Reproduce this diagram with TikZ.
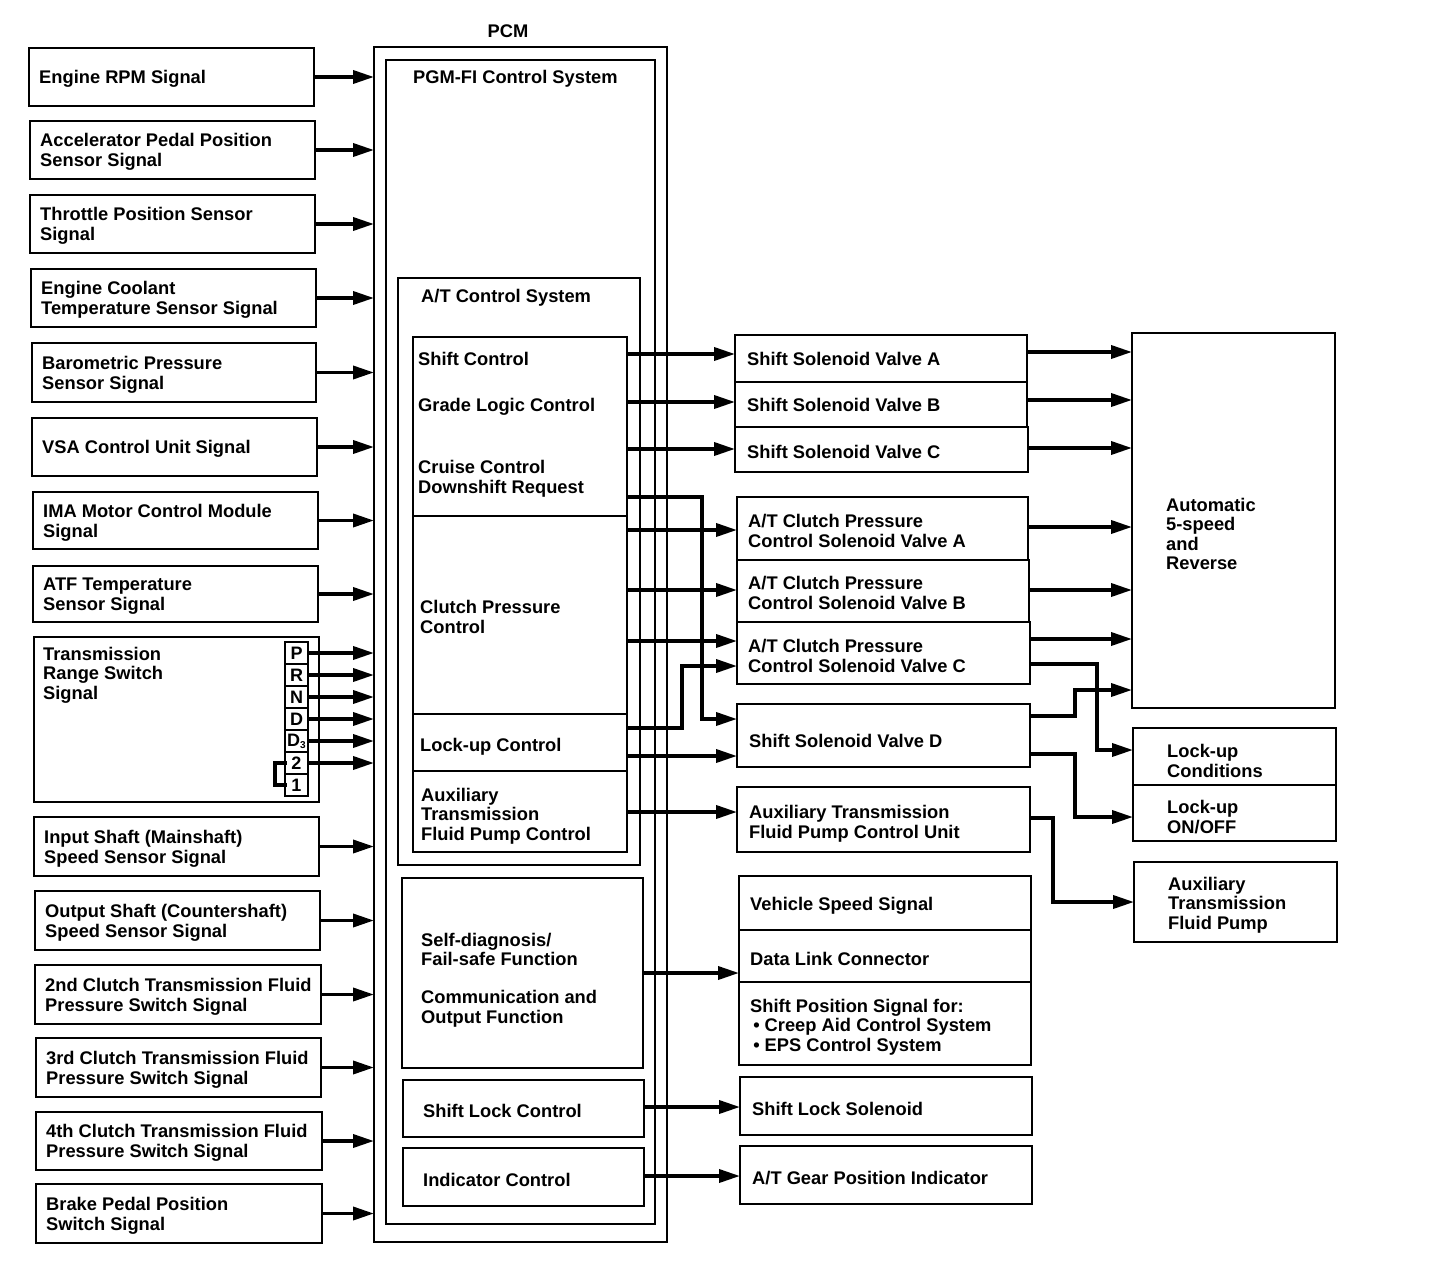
\documentclass[tikz,border=0pt]{standalone}
\usepackage{fontspec}
\setmainfont{Liberation Sans}
\usetikzlibrary{arrows.meta}
\newcommand\bxn[6][]{\node[bx,#1,anchor=north west,minimum width={#5pt-#3pt},minimum height={#6pt-#4pt}] (#2) at (#3,#4) {};}
\begin{document}
\begin{tikzpicture}[x=1pt,y=-1pt,
  bx/.style={draw, line width=1.8pt, rectangle, inner sep=0pt, outer sep=0pt},
  tx/.style={anchor=west, align=left, inner sep=0pt, yshift=-2pt, font=\fontsize{18.3}{19.5}\selectfont\bfseries},
  lt/.style={font=\fontsize{18}{18}\selectfont\bfseries, inner sep=0pt},
  ar/.style={line width=3.6pt, -{Triangle[length=21pt,width=13pt]}},
  ln/.style={line width=3.2pt},
]
\useasboundingbox[fill=white] (0,0) rectangle (1456,1268);

% ---------------- left input boxes
\bxn{eng}{29}{48}{314}{106}
\bxn{acc}{30}{121}{315}{179}
\bxn{thr}{30}{195}{315}{253}
\bxn{ect}{31}{269}{316}{327}
\bxn{bar}{32}{343}{316}{402}
\bxn{vsa}{32}{418}{317}{476}
\bxn{ima}{33}{492}{318}{549}
\bxn{atf}{33}{566}{318}{622}
\bxn{trs}{34}{637}{319}{802}
\bxn{ins}{34}{817}{319}{876}
\bxn{ous}{35}{891}{320}{950}
\bxn{cl2}{35}{965}{321}{1024}
\bxn{cl3}{36}{1038}{321}{1097}
\bxn{cl4}{36}{1112}{322}{1170}
\bxn{brk}{36}{1184}{322}{1243}

\node[tx] (teng) at (39,77) {Engine RPM Signal};
\node[tx] (tacc) at (40,150) {Accelerator Pedal Position\\Sensor Signal};
\node[tx] (tthr) at (40,224) {Throttle Position Sensor\\Signal};
\node[tx] (tect) at (41,298) {Engine Coolant\\Temperature Sensor Signal};
\node[tx] (tbar) at (42,373) {Barometric Pressure\\Sensor Signal};
\node[tx] (tvsa) at (42,447) {VSA Control Unit Signal};
\node[tx] (tima) at (43,521) {IMA Motor Control Module\\Signal};
\node[tx] (tatf) at (43,594) {ATF Temperature\\Sensor Signal};
\node[tx,anchor=north west] (ttrs) at (43,645) {Transmission\\Range Switch\\Signal};
\node[tx] (tins) at (44,847) {Input Shaft (Mainshaft)\\Speed Sensor Signal};
\node[tx] (tous) at (45,921) {Output Shaft (Countershaft)\\Speed Sensor Signal};
\node[tx] (tcl2) at (45,995) {2nd Clutch Transmission Fluid\\Pressure Switch Signal};
\node[tx] (tcl3) at (46,1068) {3rd Clutch Transmission Fluid\\Pressure Switch Signal};
\node[tx] (tcl4) at (46,1141) {4th Clutch Transmission Fluid\\Pressure Switch Signal};
\node[tx] (tbrk) at (46,1214) {Brake Pedal Position\\Switch Signal};

% range letters
\bxn[line width=1.5pt]{lp}{285}{642}{308}{664}
\bxn[line width=1.5pt]{lr}{285}{664}{308}{686}
\bxn[line width=1.5pt]{ln}{285}{686}{308}{708}
\bxn[line width=1.5pt]{ld}{285}{708}{308}{730}
\bxn[line width=1.5pt]{ldt}{285}{730}{308}{752}
\bxn[line width=1.5pt]{ltw}{285}{752}{308}{774}
\bxn[line width=1.5pt]{lon}{285}{774}{308}{796}
\node[lt] (xp) at (lp) {P};
\node[lt] (xr) at (lr) {R};
\node[lt] (xn) at (ln) {N};
\node[lt] (xd) at (ld) {D};
\node[lt] (xdt) at (ldt) {D\raisebox{-2pt}{\fontsize{10}{10}\selectfont 3}};
\node[lt] (xtw) at (ltw) {2};
\node[lt] (xon) at (lon) {1};

% ---------------- PCM
\bxn{pcm}{374}{47}{667}{1242}
\node[tx,anchor=center] (tpcm) at (508,29) {PCM};
\bxn{pgm}{386}{60}{655}{1224}
\node[tx] (tpgm) at (413,77) {PGM-FI Control System};
\bxn{ats}{398}{278}{640}{865}
\node[tx] (tats) at (421,296) {A/T Control System};
\bxn{sc}{413}{337}{627}{516}
\bxn{cp}{413}{516}{627}{714}
\bxn{lu}{413}{714}{627}{771}
\bxn{ax}{413}{771}{627}{852}
\node[tx] (tsc1) at (418,357) {Shift Control};
\node[tx] (tsc2) at (418,405) {Grade Logic Control};
\node[tx] (tsc3) at (418,477) {Cruise Control\\Downshift Request};
\node[tx] (tcp) at (420,615) {Clutch Pressure\\Control};
\node[tx] (tlu) at (420,745) {Lock-up Control};
\node[tx] (tax) at (421,814) {Auxiliary\\Transmission\\Fluid Pump Control};
\bxn{sd}{402}{878}{643}{1068}
\node[tx] (tsd) at (421,978) {Self-diagnosis/\\Fail-safe Function\\[18.5pt]Communication and\\Output Function};
\bxn{slc}{403}{1080}{644}{1137}
\node[tx] (tslc) at (423,1109) {Shift Lock Control};
\bxn{ic}{403}{1148}{644}{1206}
\node[tx] (tic) at (423,1178) {Indicator Control};

% ---------------- output column
\bxn{ssa}{735}{335}{1027}{382}
\bxn{ssb}{735}{382}{1027}{427}
\bxn{ssc}{735}{427}{1028}{472}
\node[tx] (tssa) at (747,357) {Shift Solenoid Valve A};
\node[tx] (tssb) at (747,403) {Shift Solenoid Valve B};
\node[tx] (tssc) at (747,450) {Shift Solenoid Valve C};
\bxn{cpa}{737}{497}{1028}{560}
\bxn{cpb}{737}{560}{1029}{622}
\bxn{cpc}{737}{622}{1030}{684}
\node[tx] (tcpa) at (748,529) {A/T Clutch Pressure\\Control Solenoid Valve A};
\node[tx] (tcpb) at (748,591) {A/T Clutch Pressure\\Control Solenoid Valve B};
\node[tx] (tcpc) at (748,654) {A/T Clutch Pressure\\Control Solenoid Valve C};
\bxn{ssd}{737}{704}{1030}{767}
\node[tx] (tssd) at (749,739) {Shift Solenoid Valve D};
\bxn{apu}{737}{787}{1030}{852}
\node[tx] (tapu) at (749,822) {Auxiliary Transmission\\Fluid Pump Control Unit};
\bxn{vss}{739}{876}{1031}{930}
\bxn{dlc}{739}{930}{1031}{982}
\bxn{sps}{739}{982}{1031}{1065}
\node[tx] (tvss) at (750,904) {Vehicle Speed Signal};
\node[tx] (tdlc) at (750,957) {Data Link Connector};
\node[tx] (tsps) at (750,1025) {Shift Position Signal for:\\\,\textbullet\ Creep Aid Control System\\\,\textbullet\ EPS Control System};
\bxn{sls}{740}{1077}{1032}{1135}
\node[tx] (tsls) at (752,1107) {Shift Lock Solenoid};
\bxn{gpi}{740}{1146}{1032}{1204}
\node[tx] (tgpi) at (752,1176) {A/T Gear Position Indicator};

% ---------------- far right
\bxn{aut}{1132}{333}{1335}{708}
\node[tx] (taut) at (1166,532) {Automatic\\5-speed\\and\\Reverse};
\bxn{luc}{1133}{728}{1336}{785}
\bxn{luo}{1133}{785}{1336}{841}
\node[tx] (tluc) at (1167,759) {Lock-up\\Conditions};
\node[tx] (tluo) at (1167,815) {Lock-up\\ON/OFF};
\bxn{afp}{1134}{862}{1337}{942}
\node[tx] (tafp) at (1168,903) {Auxiliary\\Transmission\\Fluid Pump};

% ---------------- connectors: inputs
\foreach \b in {eng,acc,thr,ect,bar,vsa,ima,atf,ins,ous,cl2,cl3,cl4,brk}
  \draw[ar] (\b.east) -- (\b.east -| pcm.west);
\foreach \b in {lp,lr,ln,ld,ldt,ltw}
  \draw[ar] (\b.east) -- (\b.east -| pcm.west);
\draw[ln, line cap=rect] (ltw.west) -- (275,763) -- (275,785) -- (lon.west);

% ---------------- connectors: PCM to outputs
\draw[ar] (sc.east |- 0,354) -- (ssa.west |- 0,354);
\draw[ar] (sc.east |- 0,402) -- (ssb.west |- 0,402);
\draw[ar] (sc.east |- 0,449) -- (ssc.west |- 0,449);
\draw[ar] (sc.east |- 0,497) -- (702,497) -- (702,719) -- (ssd.west |- 0,719);
\draw[ar] (cp.east |- 0,530) -- (cpa.west |- 0,530);
\draw[ar] (cp.east |- 0,590) -- (cpb.west |- 0,590);
\draw[ar] (cp.east |- 0,641) -- (cpc.west |- 0,641);
\draw[ar] (lu.east |- 0,728) -- (682,728) -- (682,666) -- (cpc.west |- 0,666);
\draw[ar] (lu.east |- 0,756) -- (ssd.west |- 0,756);
\draw[ar] (ax.east |- 0,812) -- (apu.west |- 0,812);
\draw[ar] (sd.east |- 0,973) -- (dlc.west |- 0,973);
\draw[ar] (slc.east |- 0,1107) -- (sls.west |- 0,1107);
\draw[ar] (ic.east |- 0,1176) -- (gpi.west |- 0,1176);

% ---------------- connectors: valves to transmission
\draw[ar] (ssa.east |- 0,352) -- (aut.west |- 0,352);
\draw[ar] (ssb.east |- 0,400) -- (aut.west |- 0,400);
\draw[ar] (ssc.east |- 0,448) -- (aut.west |- 0,448);
\draw[ar] (cpa.east |- 0,527) -- (aut.west |- 0,527);
\draw[ar] (cpb.east |- 0,590) -- (aut.west |- 0,590);
\draw[ar] (cpc.east |- 0,639) -- (aut.west |- 0,639);
\draw[ar] (cpc.east |- 0,664) -- (1097,664) -- (1097,750) -- (luc.west |- 0,750);
\draw[ar] (ssd.east |- 0,716) -- (1075,716) -- (1075,690) -- (aut.west |- 0,690);
\draw[ar] (ssd.east |- 0,754) -- (1075,754) -- (1075,817) -- (luo.west |- 0,817);
\draw[ar] (apu.east |- 0,818) -- (1053,818) -- (1053,902) -- (afp.west |- 0,902);
\end{tikzpicture}
\end{document}
